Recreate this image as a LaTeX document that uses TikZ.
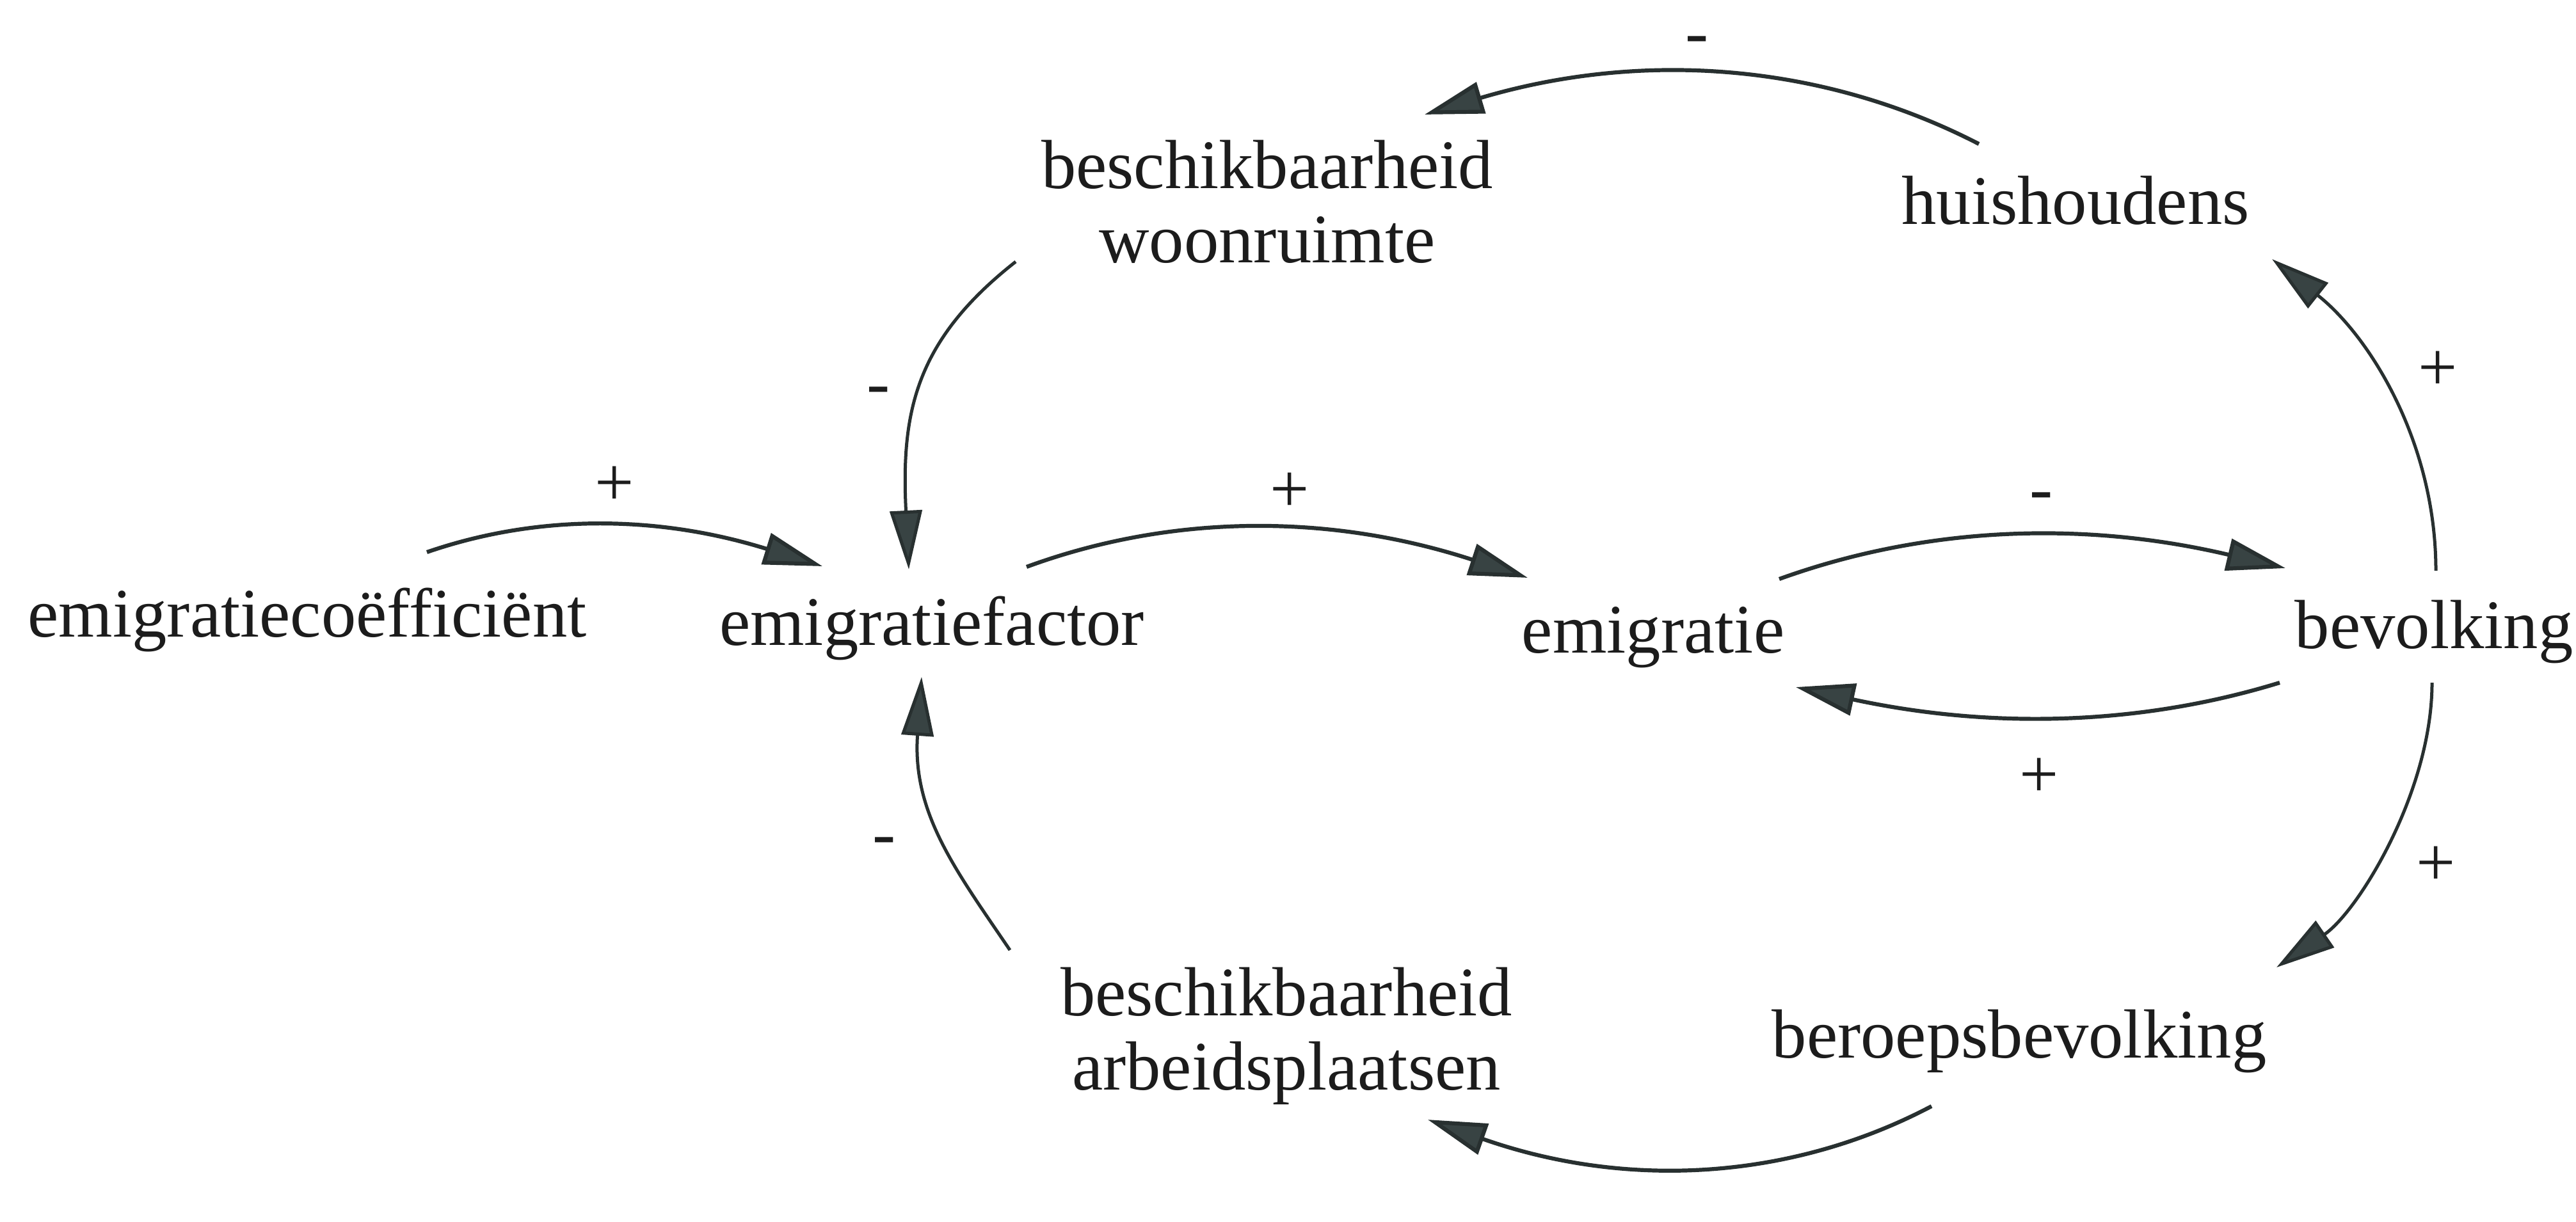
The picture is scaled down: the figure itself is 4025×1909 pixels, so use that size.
\documentclass[tikz,border=0pt]{standalone}
\usepackage{fontspec}
\setmainfont{Liberation Serif}
\usetikzlibrary{arrows.meta}
\definecolor{inkline}{HTML}{283030}
\definecolor{inkhead}{HTML}{384343}
\definecolor{inktext}{HTML}{1C1C1C}
\begin{document}
\begin{tikzpicture}[x=0.01cm,y=-0.01cm,
  var/.style={font=\fontsize{30.9pt}{33pt}\selectfont, text=inktext, inner sep=0pt, anchor=base},
  var2/.style={var, align=center, anchor=north},
  sign/.style={font=\fontsize{30.9pt}{33pt}\selectfont, text=inktext, inner sep=0pt},
  link/.style={draw=inkline, line width=0.062cm,
    -{Triangle[length=0.92cm,width=0.5cm,fill=inkhead]}},
  thinlink/.style={link, line width=0.05cm}]

\fill[white] (0,0) rectangle (4025,1909);
\useasboundingbox (0,0) rectangle (4025,1909);

% variables
\node[var] (coef)    at (480,995)   {emigratiecoëfficiënt};
\node[var] (factor)  at (1456,1008) {emigratiefactor};
\node[var] (emig)    at (2583,1020) {emigratie};
\node[var] (bev)     at (3803,1013) {bevolking};
\node[var] (huis)    at (3243,350)  {huishoudens};
\node[var] (beroeps) at (3155,1653) {beroepsbevolking};
\node[var2] (woon)   at (1980,218)  {beschikbaarheid\\woonruimte};
\node[var2] (arb)    at (2010,1511) {beschikbaarheid\\arbeidsplaatsen};

% causal links
\draw[link] ([shift={(187,-132)}]coef.base) .. controls +(174,-60) and +(-257,-80) .. ([shift={(-171,-123)}]factor.base);
\draw[thinlink] ([shift={(-393,191)}]woon.north) .. controls +(-158,124) and +(-12,-244) .. ([shift={(-36,-118)}]factor.base);
\draw[thinlink] ([shift={(-432,-26)}]arb.north) .. controls +(-84,-124) and +(-15,213) .. ([shift={(-16,50)}]factor.base);
\draw[link] ([shift={(148,-122)}]factor.base) .. controls +(226,-83) and +(-310,-101) .. ([shift={(-196,-117)}]emig.base);
\draw[link] ([shift={(197,-115)}]emig.base) .. controls +(227,-82) and +(-318,-75) .. ([shift={(-232,-125)}]bev.base);
\draw[link] ([shift={(-241,54)}]bev.base) .. controls +(-218,67) and +(306,66) .. ([shift={(223,54)}]emig.base);
\draw[thinlink] ([shift={(3,-121)}]bev.base) .. controls +(0,-200) and +(153,121) .. ([shift={(307,55)}]huis.base);
\draw[link] ([shift={(-151,-125)}]huis.base) .. controls +(-242,-125) and +(343,-102) .. ([shift={(246,-39)}]woon.north);
\draw[thinlink] ([shift={(-3,54)}]bev.base) .. controls +(0,170) and +(128,-88) .. ([shift={(402,-141)}]beroeps.base);
\draw[link] ([shift={(-137,76)}]beroeps.base) .. controls +(-218,115) and +(313,110) .. ([shift={(221,239)}]arb.north);

% polarities
\node[sign] (s1) at (960,760)   {+};
\node[sign] (s2) at (2015,770)  {+};
\node[sign] (s3) at (3186,1216) {+};
\node[sign] (s4) at (3809,580)  {+};
\node[sign] (s5) at (3806,1354) {+};
\node[sign,anchor=base] (s6) at (2652,87)   {-};
\node[sign,anchor=base] (s7) at (1373,634)  {-};
\node[sign,anchor=base] (s8) at (3190,799)  {-};
\node[sign,anchor=base] (s9) at (1382,1338) {-};
\end{tikzpicture}
\end{document}
